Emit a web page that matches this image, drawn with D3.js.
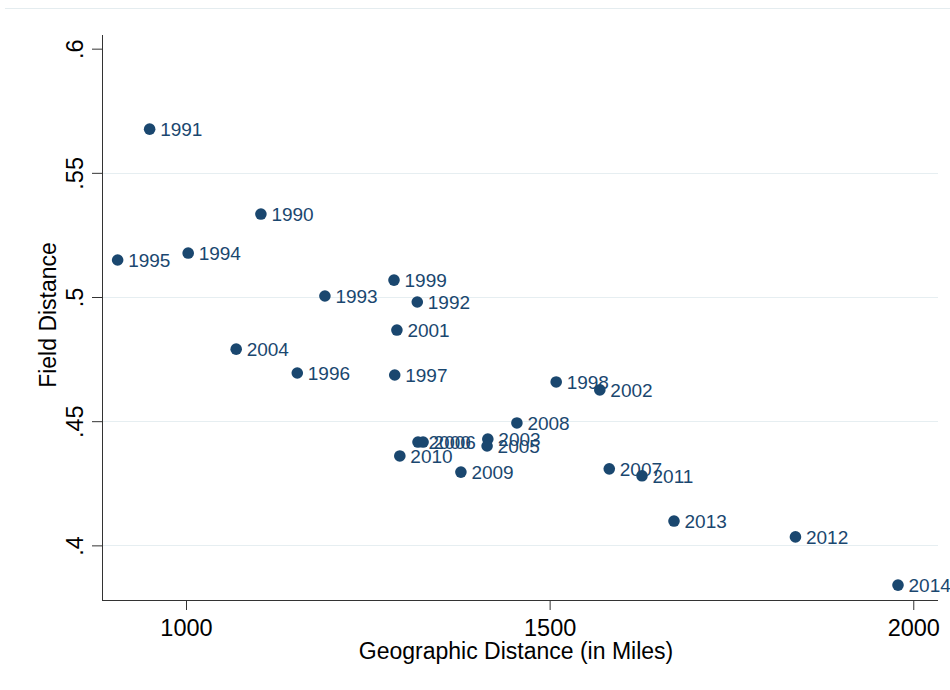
<!DOCTYPE html>
<html>
<head>
<meta charset="utf-8">
<script src="https://cdn.jsdelivr.net/npm/d3@7"></script>
<style>
  body { margin: 0; background: #fff; }
  svg { display: block; font-family: "Liberation Sans", Arial, sans-serif; }
</style>
</head>
<body>
<svg id="chart" width="950" height="690"></svg>
<script>
// Year-by-year observations: geographic distance vs. field distance
const years = [1990, 1991, 1992, 1993, 1994, 1995, 1996, 1997, 1998, 1999,
               2000, 2001, 2002, 2003, 2004, 2005, 2006, 2007, 2008, 2009,
               2010, 2011, 2012, 2013, 2014];
const geoMiles = [1103, 950, 1318, 1191, 1003, 906, 1153, 1287, 1509, 1286,
                  1319, 1290, 1569, 1415, 1069, 1414, 1326, 1582, 1455, 1378,
                  1294, 1627, 1838, 1671, 1979];
const fieldDist = [0.5334, 0.5676, 0.498, 0.5004, 0.5177, 0.5149, 0.4694, 0.4686, 0.4658, 0.5068,
                   0.4416, 0.4867, 0.4626, 0.4428, 0.479, 0.440, 0.4416, 0.4308, 0.4493, 0.4295,
                   0.436, 0.428, 0.4034, 0.4098, 0.384];
const xTicks = [1000, 1500, 2000];
const yTicks = [0.4, 0.45, 0.5, 0.55, 0.6];
const yTickLabels = [".4", ".45", ".5", ".55", ".6"];

const navy = "#1a476f";
const svg = d3.select("#chart");

const plotLeft = 102, plotRight = 938, plotTop = 35, plotBottom = 600;
const x = d3.scaleLinear().domain([884.5, 2034]).range([plotLeft, plotRight]);
const y = d3.scaleLinear().domain([0.378, 0.6055]).range([plotBottom, plotTop]);

// thin frame line at top
svg.append("line").attr("x1", 5).attr("x2", 950).attr("y1", 8.5).attr("y2", 8.5)
  .attr("stroke", "#e4ecef").attr("stroke-width", 1);

// horizontal grid lines
svg.append("g").selectAll("line").data(yTicks.filter(v => v < 0.6)).join("line")
  .attr("x1", plotLeft).attr("x2", plotRight)
  .attr("y1", d => Math.round(y(d)) + 0.5).attr("y2", d => Math.round(y(d)) + 0.5)
  .attr("stroke", "#e6eef1").attr("stroke-width", 1.2);

// y axis
const yAxis = svg.append("g").attr("transform", `translate(${plotLeft},0)`)
  .call(d3.axisLeft(y).tickValues(yTicks).tickFormat((d, i) => yTickLabels[i]).tickSize(10).tickSizeOuter(0));
yAxis.select(".domain").attr("stroke", "#333").attr("d", `M0.5,${plotTop}V${plotBottom}`);
yAxis.selectAll(".tick line").attr("stroke", "#333");
yAxis.selectAll(".tick text")
  .attr("font-size", 23.5).attr("fill", "#000")
  .attr("text-anchor", "middle")
  .attr("x", 0).attr("y", 0).attr("dy", "0")
  .attr("transform", "translate(-19,0) rotate(-90)");

// x axis
const xAxis = svg.append("g").attr("transform", `translate(0,${plotBottom})`)
  .call(d3.axisBottom(x).tickValues(xTicks).tickFormat(d3.format("d")).tickSize(10).tickSizeOuter(0));
xAxis.select(".domain").attr("stroke", "#333").attr("d", `M${plotLeft},0.5H${plotRight}`);
xAxis.selectAll(".tick line").attr("stroke", "#333");
xAxis.selectAll(".tick text").attr("font-size", 23.5).attr("fill", "#000")
  .attr("y", 36).attr("dy", "0");

// axis titles
svg.append("text").attr("x", 516).attr("y", 659).attr("text-anchor", "middle")
  .attr("font-size", 23).attr("fill", "#000").text("Geographic Distance (in Miles)");
svg.append("text").attr("transform", "translate(56,315) rotate(-90)").attr("text-anchor", "middle")
  .attr("font-size", 23).attr("fill", "#000").text("Field Distance");

// points and year labels
const pts = years.map((yr, i) => ({ yr, gx: geoMiles[i], fd: fieldDist[i] }));
const g = svg.append("g");
g.selectAll("circle").data(pts).join("circle")
  .attr("cx", d => x(d.gx)).attr("cy", d => y(d.fd)).attr("r", 5.8)
  .attr("fill", navy);
g.selectAll("text").data(pts).join("text")
  .attr("x", d => x(d.gx) + 10.5).attr("y", d => y(d.fd)).attr("dy", "0.36em")
  .attr("font-size", 19).attr("fill", navy).text(d => d.yr);
</script>
</body>
</html>
